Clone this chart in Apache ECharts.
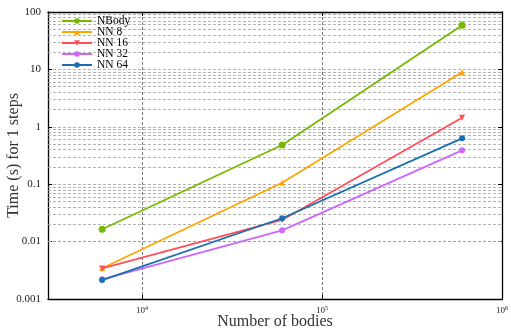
<!DOCTYPE html>
<html>
<head>
<meta charset="utf-8">
<script src="https://cdn.jsdelivr.net/npm/echarts@6/dist/echarts.min.js"></script>
<style>html,body{margin:0;padding:0;background:#fff}#chart{width:511px;height:332px}</style>
</head>
<body>
<div id="chart"></div>
<script>
// number of bodies on x, seconds per step on y
const bodies = [6000, 60000, 600000];
const nbody = [0.0164, 0.482, 58.6];
const nn8 = [0.00343, 0.106, 8.9];
const nn16 = [0.0034, 0.0238, 1.44];
const nn32 = [0.0022, 0.0157, 0.389];
const nn64 = [0.00214, 0.0255, 0.63];
const seriesNames = ["NBody", "NN 8", "NN 16", "NN 32", "NN 64"];
const yTickLabels = ["0.001", "0.01", "0.1", "1", "10", "100"];
const decades = [0.001, 0.01, 0.1, 1, 10];
const minorSteps = [2, 3, 4, 5, 6, 7, 8, 9];

const font = '"Liberation Serif", "DejaVu Serif", serif';
const colors = ["#76b900", "#ffa500", "#ff4f5a", "#cc66ff", "#1a6fb0"];
const symbols = ["circle", "triangle", "triangle", "circle", "circle"];
const rotates = [0, 0, 180, 0, 0];
const values = [nbody, nn8, nn16, nn32, nn64];

// matplotlib-style minor grid (2..9 in each decade)
const minorLines = [];
for (const d of decades) {
  for (const k of minorSteps) minorLines.push({ yAxis: d * k });
}

const chart = echarts.init(document.getElementById("chart"));

const series = seriesNames.map((name, i) => ({
  name: name,
  type: "line",
  z: 3,
  data: bodies.map((b, j) => [b, values[i][j]]),
  symbol: symbols[i],
  symbolRotate: rotates[i],
  symbolSize: i === 0 ? 7 : 6,
  showAllSymbol: true,
  lineStyle: { color: colors[i], width: 1.8 },
  itemStyle: { color: colors[i] },
}));

series[0].markLine = {
  silent: true,
  z: 1,
  symbol: ["none", "none"],
  label: { show: false },
  animation: false,
  lineStyle: { color: "#a0a0a0", type: [3, 2], width: 0.8 },
  data: minorLines,
};

chart.setOption({
  animation: false,
  textStyle: { fontFamily: font },
  grid: { left: 48, right: 9, top: 12, bottom: 33, outerBoundsMode: "none", containLabel: false },
  legend: {
    orient: "vertical",
    left: 61,
    top: 15,
    itemWidth: 30,
    itemHeight: 7,
    itemGap: -1,
    padding: 0,
    textStyle: { fontFamily: font, fontSize: 11.5, color: "#000" },
    data: seriesNames,
  },
  xAxis: [
    {
      type: "log",
      logBase: 10,
      min: 3000,
      max: 1000000,
      name: "Number of bodies",
      nameLocation: "middle",
      nameGap: 15,
      nameMoveOverlap: false,
      nameTextStyle: { fontFamily: font, fontSize: 16, color: "#333" },
      axisLine: { lineStyle: { color: "#000", width: 1.3 } },
      axisTick: { inside: true, length: 4, lineStyle: { color: "#000" } },
      axisLabel: {
        margin: 6,
        color: "#222",
        showMinLabel: false,
        formatter: (v) => {
          const e = Math.round(Math.log10(v));
          if (Math.abs(Math.log10(v) - e) > 1e-6) return "";
          return "10{s|" + e + "}";
        },
        rich: {
          s: { fontSize: 6, fontFamily: font, color: "#222", verticalAlign: "top", padding: [0, 0, 5, 0] },
        },
        fontSize: 9,
        fontFamily: font,
      },
      splitLine: { show: true, lineStyle: { color: "#555", type: [3, 2], width: 0.8 } },
    },
    {
      type: "log",
      logBase: 10,
      min: 3000,
      max: 1000000,
      position: "top",
      axisLine: { lineStyle: { color: "#000", width: 1.3 } },
      axisTick: { inside: true, length: 4, lineStyle: { color: "#000" } },
      axisLabel: { show: false },
      splitLine: { show: false },
    },
  ],
  yAxis: [
    {
      type: "log",
      logBase: 10,
      min: 0.001,
      max: 100,
      name: "Time (s) for 1 steps",
      nameLocation: "middle",
      nameGap: 26,
      nameMoveOverlap: false,
      nameTextStyle: { fontFamily: font, fontSize: 16, color: "#333" },
      axisLine: { show: true, lineStyle: { color: "#000", width: 1.3 } },
      axisTick: { inside: true, length: 4, lineStyle: { color: "#000" } },
      axisLabel: {
        margin: 7,
        fontSize: 11,
        fontFamily: font,
        color: "#222",
        formatter: (v) => yTickLabels[Math.round(Math.log10(v)) + 3] || "",
      },
      splitLine: { show: true, lineStyle: { color: "#a0a0a0", type: [3, 2], width: 0.8 } },
    },
    {
      type: "log",
      logBase: 10,
      min: 0.001,
      max: 100,
      position: "right",
      axisLine: { show: true, lineStyle: { color: "#000", width: 1.3 } },
      axisTick: { inside: true, length: 4, lineStyle: { color: "#000" } },
      axisLabel: { show: false },
      splitLine: { show: false },
    },
  ],
  series: series,
});
</script>
</body>
</html>
